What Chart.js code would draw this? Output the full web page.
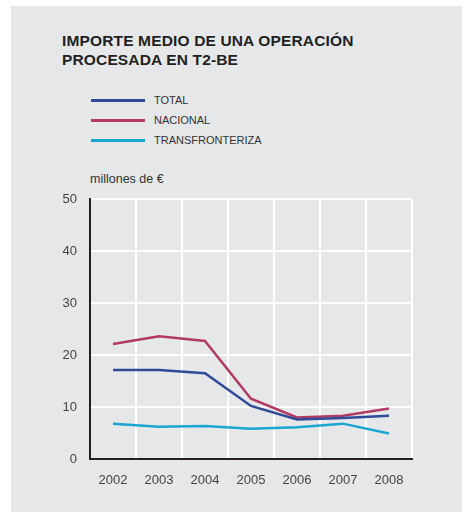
<!DOCTYPE html>
<html>
<head>
<meta charset="utf-8">
<script src="https://cdn.jsdelivr.net/npm/chart.js@4"></script>
<style>
  body { margin: 0; background: #fff; font-family: "Liberation Sans", Arial, sans-serif; }
  #panel { position: absolute; left: 11px; top: 6px; width: 451px; height: 506px; background: #e6e7e8; }
  #title { position: absolute; left: 62px; top: 31px; font-size: 15.5px; font-weight: bold; line-height: 19px; letter-spacing: 0.15px; color: #231f20; }
  #legend { position: absolute; left: 91px; top: 90px; }
  .item { height: 20px; display: flex; align-items: center; font-size: 11px; color: #333; }
  .swatch { width: 54px; height: 3px; margin-right: 9px; }
  #unit { position: absolute; left: 90px; top: 172px; font-size: 12.5px; color: #333; }
  #wrap { position: absolute; left: 0; top: 0; width: 467px; height: 512px; }
</style>
</head>
<body>
<div id="panel"></div>
<div id="title">IMPORTE MEDIO DE UNA OPERACIÓN<br>PROCESADA EN T2-BE</div>
<div id="legend"></div>
<div id="unit">millones de €</div>
<div id="wrap"><canvas id="chart" width="467" height="512"></canvas></div>
<script>
// Values (millones de €)
const years = ['2002', '2003', '2004', '2005', '2006', '2007', '2008'];
const total = [17.1, 17.1, 16.5, 10.2, 7.6, 7.9, 8.3];
const nacional = [22.1, 23.6, 22.7, 11.6, 8.0, 8.3, 9.7];
const transfronteriza = [6.8, 6.2, 6.35, 5.8, 6.1, 6.8, 4.9];
const yTicks = [0, 10, 20, 30, 40, 50];

const seriesNames = ['TOTAL', 'NACIONAL', 'TRANSFRONTERIZA'];
const seriesColors = ['#2f4a98', '#b23a62', '#1aa6d2'];
const seriesData = [total, nacional, transfronteriza];

const ctx = document.getElementById('chart').getContext('2d');

const chart = new Chart(ctx, {
  type: 'line',
  data: {
    labels: years,
    datasets: seriesData.map((d, i) => ({
      label: seriesNames[i],
      data: d,
      borderColor: seriesColors[i],
      borderWidth: 2.5,
      pointRadius: 0,
      tension: 0,
    })),
  },
  options: {
    responsive: false,
    animation: false,
    layout: { padding: { left: 0, right: 55, top: 199, bottom: 23 } },
    plugins: { legend: { display: false }, tooltip: { enabled: false } },
    scales: {
      x: {
        offset: true,
        grid: { offset: true, color: '#ffffff', lineWidth: 2, drawTicks: false },
        border: { color: '#231f20', width: 2 },
        ticks: { color: '#444', font: { family: 'Liberation Sans', size: 13 }, padding: 14 },
        afterFit: (s) => { s.height = 30; },
      },
      y: {
        min: 0,
        max: 50,
        afterBuildTicks: (s) => { s.ticks = yTicks.map(v => ({ value: v })); },
        grid: { color: '#ffffff', lineWidth: 2, drawTicks: false },
        border: { color: '#231f20', width: 2 },
        ticks: { color: '#444', font: { family: 'Liberation Sans', size: 13 }, padding: 13 },
        afterFit: (s) => { s.width = 90; },
      },
    },
  },
});

// Build the legend from the chart's datasets
const legend = document.getElementById('legend');
chart.data.datasets.forEach(ds => {
  const row = document.createElement('div');
  row.className = 'item';
  const sw = document.createElement('span');
  sw.className = 'swatch';
  sw.style.background = ds.borderColor;
  row.appendChild(sw);
  row.appendChild(document.createTextNode(ds.label));
  legend.appendChild(row);
});
</script>
</body>
</html>
